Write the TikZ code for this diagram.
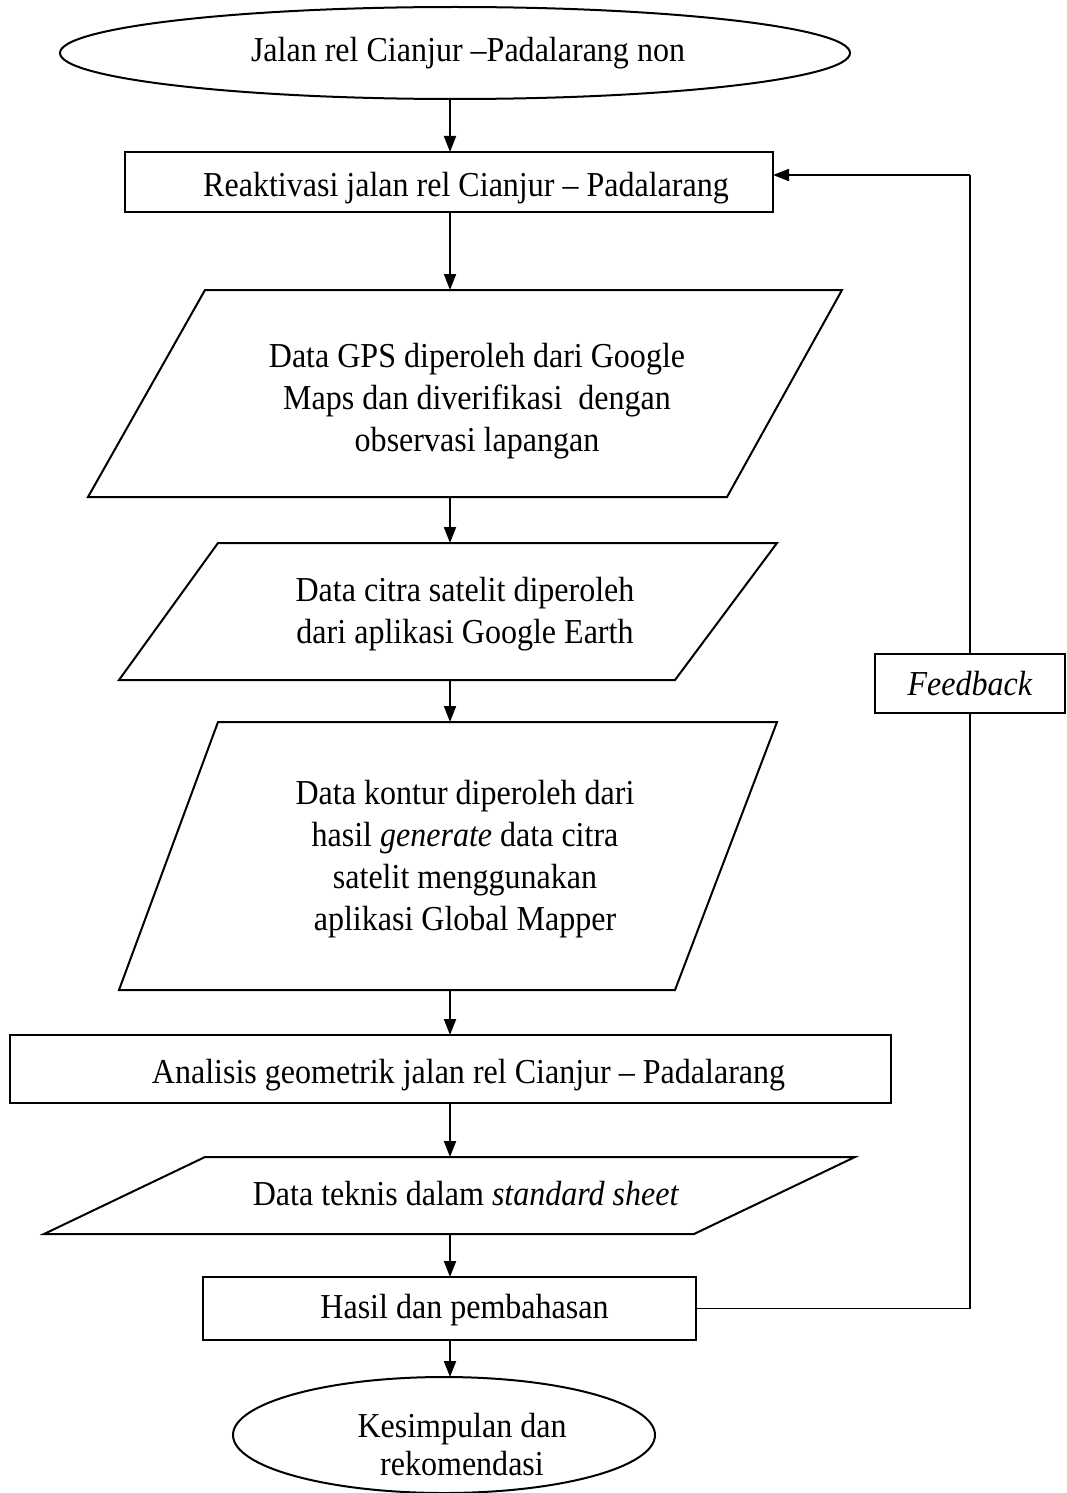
\documentclass[tikz,border=0pt]{standalone}
\usepackage{fontspec}
\setmainfont{Liberation Serif}[FakeStretch=0.915]
\usetikzlibrary{shapes.geometric,arrows.meta,calc}
\begin{document}
\begin{tikzpicture}[x=1pt,y=-1pt,
  every node/.style={font=\fontsize{35}{42}\selectfont},
  shapeline/.style={draw=black,line width=2pt},
  boxnode/.style={shapeline,rectangle,inner sep=0pt,outer sep=0pt},
  ovalnode/.style={shapeline,ellipse,inner sep=0pt,outer sep=0pt},
  txt/.style={align=center,inner sep=0pt},
  flow/.style={line width=2pt,-{Triangle[length=16pt,width=12pt]}},
  fbline/.style={line width=1.6pt}]
\useasboundingbox (0,0) rectangle (1067,1493);
\fill[white] (0,0) rectangle (1067,1493);

\coordinate (axis) at (450,0);

% start
\node[ovalnode,minimum width=790pt,minimum height=92pt,
  label={[txt,xshift=13pt]center:Jalan rel Cianjur –Padalarang non}] (e1) at (455,53) {};

% reaktivasi
\node[boxnode,minimum width=648pt,minimum height=60pt,
  label={[txt,xshift=17pt,yshift=-6pt]center:Reaktivasi jalan rel Cianjur – Padalarang}] (b2) at (449,182) {};

% parallelogram 1
\coordinate (p1n) at (450,290);
\coordinate (p1s) at (450,497);
\draw[shapeline] (205,290) -- (842,290) -- (727,497) -- (88,497) -- cycle;
\node[txt] (t1) at (477,401) {Data GPS diperoleh dari Google\\Maps dan diverifikasi\ \ dengan\\observasi lapangan};

% parallelogram 2
\coordinate (p2n) at (450,543);
\coordinate (p2s) at (450,680);
\draw[shapeline] (218,543) -- (777,543) -- (675,680) -- (119,680) -- cycle;
\node[txt] (t2) at (465,614) {Data citra satelit diperoleh\\dari aplikasi Google Earth};

% parallelogram 3
\coordinate (p3n) at (450,722);
\coordinate (p3s) at (450,990);
\draw[shapeline] (218,722) -- (777,722) -- (675,990) -- (119,990) -- cycle;
\node[txt] (t3) at (465,859) {Data kontur diperoleh dari\\hasil \textit{generate} data citra\\satelit menggunakan\\aplikasi Global Mapper};

% analisis
\node[boxnode,minimum width=881pt,minimum height=68pt,
  label={[txt,xshift=18pt,yshift=-6pt]center:Analisis geometrik jalan rel Cianjur – Padalarang}] (b4) at (450.5,1069) {};

% parallelogram 4
\coordinate (p4n) at (450,1157);
\coordinate (p4s) at (450,1234);
\draw[shapeline] (205,1157) -- (855,1157) -- (694,1234) -- (44,1234) -- cycle;
\node[txt] (t4) at (466,1194) {Data teknis dalam \textit{standard sheet}};

% hasil
\node[boxnode,minimum width=493pt,minimum height=63pt,
  label={[txt,xshift=15pt,yshift=-2pt]center:Hasil dan pembahasan}] (b5) at (449.5,1308.5) {};

% end
\node[ovalnode,minimum width=422pt,minimum height=116pt,
  label={[txt,xshift=18pt,yshift=-10pt,font=\fontsize{35}{38}\selectfont]center:Kesimpulan dan\\rekomendasi}] (e2) at (444,1435) {};

% feedback
\node[boxnode,line width=1.6pt,minimum width=190pt,minimum height=59pt] (fb) at (970,683.5) {\textit{Feedback}};

% flow arrows
\draw[flow] (e1.south -| axis) -- (b2.north -| axis);
\draw[flow] (b2.south -| axis) -- (p1n);
\draw[flow] (p1s) -- (p2n);
\draw[flow] (p2s) -- (p3n);
\draw[flow] (p3s) -- (b4.north -| axis);
\draw[flow] (b4.south -| axis) -- (p4n);
\draw[flow] (p4s) -- (b5.north -| axis);
\draw[flow] (b5.south -| axis) -- (e2.north -| axis);

% feedback loop
\coordinate (fbtop) at (970,175);
\draw[fbline] (b5.east) -- (b5.east -| fb.south) -- (fb.south);
\draw[fbline] (fb.north) -- (fbtop);
\draw[flow] (fbtop) -- (fbtop -| b2.east);
\end{tikzpicture}
\end{document}
